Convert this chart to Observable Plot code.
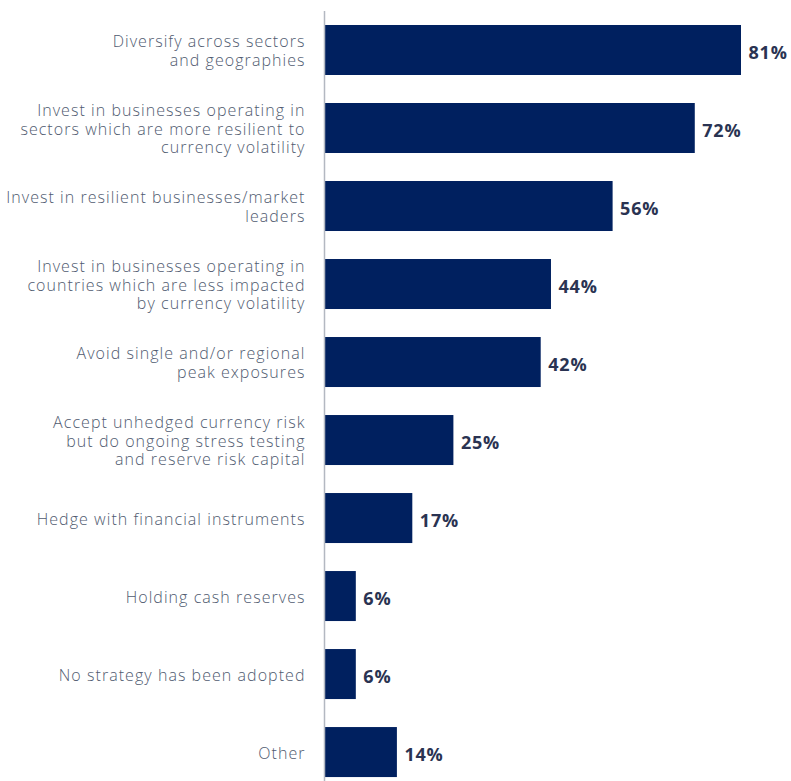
<!DOCTYPE html>
<html>
<head>
<meta charset="utf-8">
<script src="https://cdn.jsdelivr.net/npm/d3@7"></script>
<script src="https://cdn.jsdelivr.net/npm/@observablehq/plot@0.6"></script>
<style>
  html, body { margin: 0; padding: 0; background: #fff; }
  #chart svg { display: block; }
</style>
</head>
<body>
<div id="chart"></div>
<script>
const categories = [
  "Diversify across sectors\nand geographies",
  "Invest in businesses operating in\nsectors which are more resilient to\ncurrency volatility",
  "Invest in resilient businesses/market\nleaders",
  "Invest in businesses operating in\ncountries which are less impacted\nby currency volatility",
  "Avoid single and/or regional\npeak exposures",
  "Accept unhedged currency risk\nbut do ongoing stress testing\nand reserve risk capital",
  "Hedge with financial instruments",
  "Holding cash reserves",
  "No strategy has been adopted",
  "Other"
];
const values = [81, 72, 56, 44, 42, 25, 17, 6, 6, 14];

const data = categories.map((c, i) => ({category: c, value: values[i]}));

const chart = Plot.plot({
  width: 791,
  height: 781,
  marginTop: 11,
  marginBottom: 0,
  marginLeft: 325,
  marginRight: 50,
  style: {fontFamily: "'Open Sans', sans-serif", background: "#fff"},
  x: {domain: [0, 81], axis: null},
  y: {domain: categories, axis: null, paddingInner: 0.359, paddingOuter: 0.115, align: 0.78, round: false},
  marks: [
    Plot.barX(data, {x: "value", y: "category", fill: "#00205f"}),
    Plot.ruleX([0], {stroke: "#b3b8c1", strokeWidth: 1.5, dx: -1}),
    Plot.text(data, {
      x: 0, y: "category", text: "category",
      textAnchor: "end", dx: -20, lineHeight: 1.18,
      fill: "#505b70", fontSize: 16, fontWeight: 300
    }),
    Plot.text(data, {
      x: "value", y: "category", text: d => d.value + "%",
      textAnchor: "start", dx: 7, dy: 3,
      fill: "#2a3352", fontSize: 18, fontWeight: 700
    })
  ]
});
const textGroups = d3.select(chart).selectAll('g[aria-label="text"]').nodes();
if (textGroups[0]) textGroups[0].style.letterSpacing = "1.05px";
if (textGroups[1]) textGroups[1].style.letterSpacing = "0.8px";
document.getElementById("chart").append(chart);
</script>
</body>
</html>
